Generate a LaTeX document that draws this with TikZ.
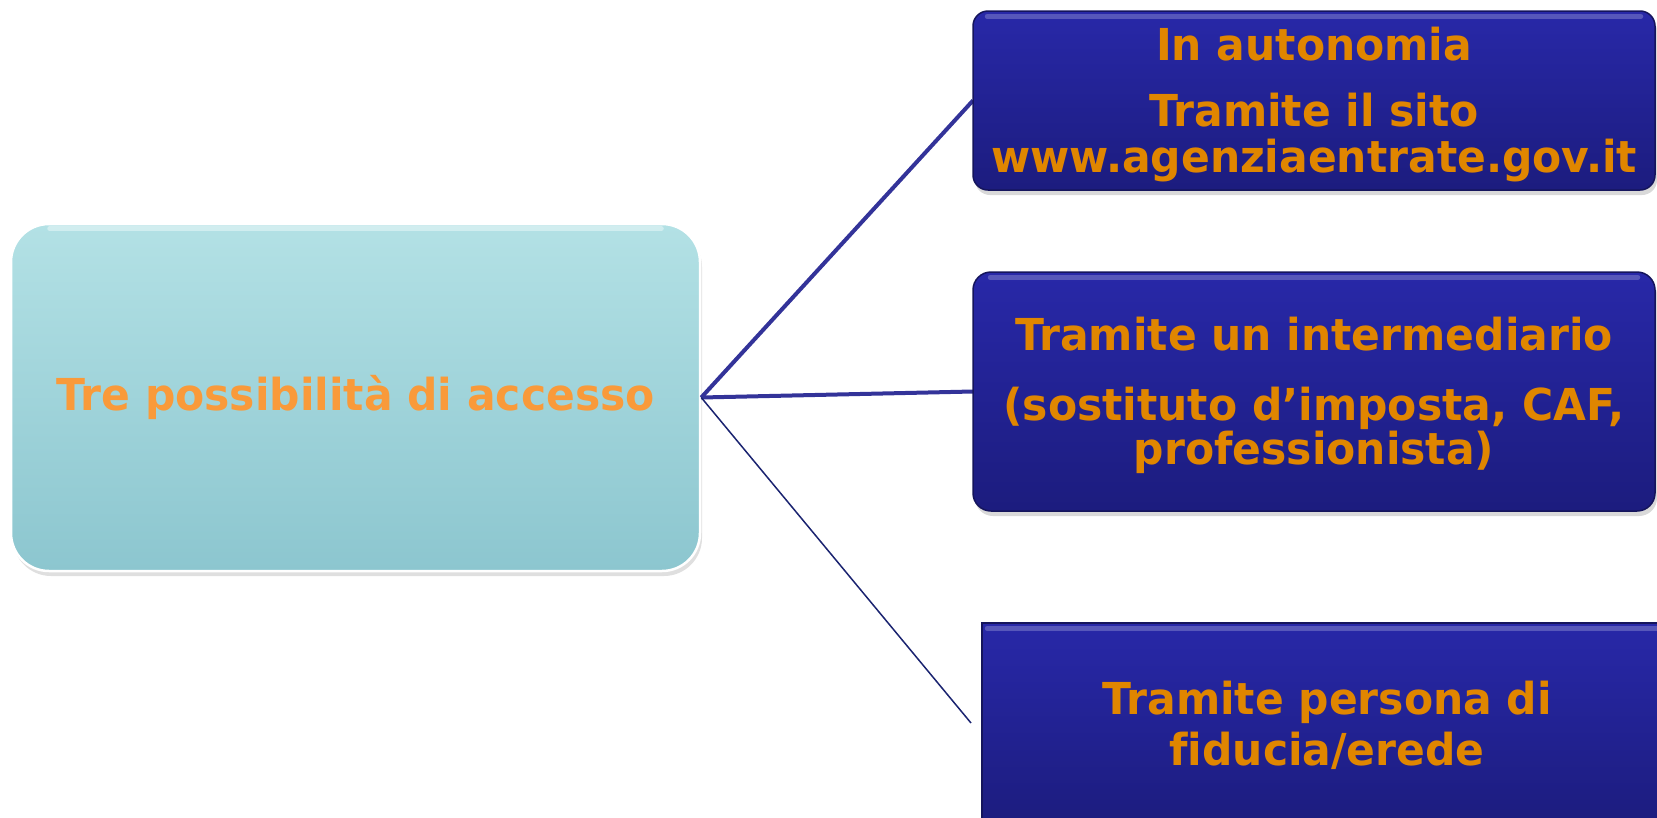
\documentclass[tikz,border=0pt]{standalone}
\usepackage{fontspec}
\setmainfont{DejaVu Sans}[Ligatures=NoCommon, FakeStretch=0.965]
\usetikzlibrary{shadows}
\definecolor{lefttop}{HTML}{B3E1E5}
\definecolor{leftbot}{HTML}{8CC6CF}
\definecolor{lefttxt}{HTML}{F99A3A}
\definecolor{bluetop}{HTML}{2828A8}
\definecolor{bluebot}{HTML}{1C1C7E}
\definecolor{blueedge}{HTML}{15155C}
\definecolor{righttxt}{HTML}{E08600}
\definecolor{linethick}{HTML}{333399}
\definecolor{linethin}{HTML}{1A2370}
\begin{document}
\begin{tikzpicture}[x=1pt,y=-1pt,
  hubbox/.style={draw=white, line width=2.5pt, rounded corners=38pt,
    top color=lefttop, bottom color=leftbot, inner sep=0pt,
    text=lefttxt, font=\bfseries\fontsize{44}{46}\selectfont,
    drop shadow={shadow xshift=2pt, shadow yshift=-5pt, opacity=0.25}},
  optbox/.style={draw=blueedge, line width=1.5pt,
    top color=bluetop, bottom color=bluebot, inner sep=0pt,
    drop shadow={shadow xshift=2pt, shadow yshift=-5pt, opacity=0.3}},
  opttext/.style={text=righttxt, align=center, inner sep=0pt},
  gloss/.style={draw=white, draw opacity=0.22, line width=5pt, line cap=round},
  thickline/.style={draw=linethick, line width=4pt},
  thinline/.style={draw=linethin, line width=1.5pt}
]
\useasboundingbox (0,0) rectangle (1657,817);
\begin{scope}
\clip (0,0) rectangle (1657,817);
\node[hubbox, minimum width=689pt, minimum height=347pt] (L) at (355.5,397.5)
  {Tre possibilità di accesso};
\draw[gloss, draw opacity=0.4] ([xshift=40pt,yshift=-6pt]L.north west) -- ([xshift=-40pt,yshift=-6pt]L.north east);

\coordinate (E) at (971,723);
\draw[thickline] (L.east) -- (1314-341,100.5) coordinate (Tw);
\draw[thickline] (L.east) -- (1314-341,391.5) coordinate (Mw);
\draw[thinline] (L.east) -- (E);

\node[optbox, rounded corners=15pt, minimum width=682pt, minimum height=179pt] (T) at (1314,100.5) {};
\node[opttext, font=\bfseries\fontsize{44}{46}\selectfont] (Tt) at ([yshift=-4pt]T.center)
  {In autonomia\\[20pt]Tramite il sito\\www.agenziaentrate.gov.it};
\node[optbox, rounded corners=18pt, minimum width=682pt, minimum height=239pt] (M) at (1314,391.5) {};
\node[opttext, font=\bfseries\fontsize{44}{42}\selectfont] (Mt) at ([yshift=-4pt]M.center)
  {Tramite un intermediario\\[28pt](sostituto d’imposta, CAF,\\professionista)};
\node[optbox, minimum width=690pt, minimum height=202pt] (B) at (1327,724) {};
\node[opttext, font=\bfseries\fontsize{44}{51}\selectfont] (Bt) at ([yshift=-1pt]B.center)
  {Tramite persona di\\fiducia/erede};
\draw[gloss] ([xshift=15pt,yshift=-6pt]T.north west) -- ([xshift=-15pt,yshift=-6pt]T.north east);
\draw[gloss] ([xshift=18pt,yshift=-6pt]M.north west) -- ([xshift=-18pt,yshift=-6pt]M.north east);
\draw[gloss] ([xshift=6pt,yshift=-6pt]B.north west) -- ([xshift=-6pt,yshift=-6pt]B.north east);
\end{scope}
\end{tikzpicture}
\end{document}
